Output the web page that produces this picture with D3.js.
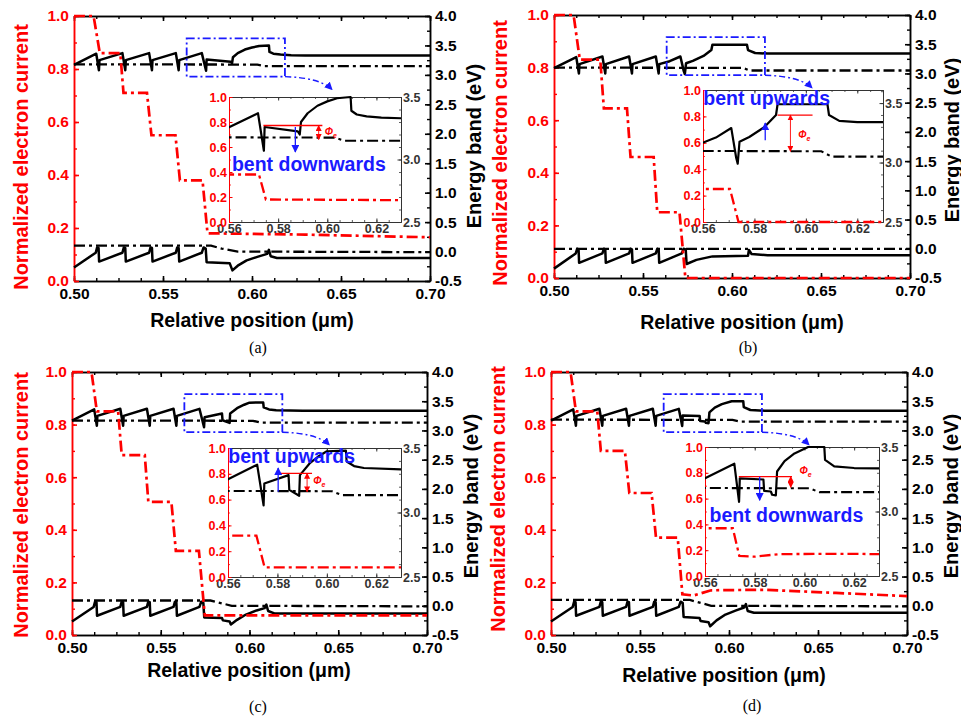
<!DOCTYPE html>
<html>
<head>
<meta charset="utf-8">
<script src="https://cdn.jsdelivr.net/npm/d3@7"></script>
<style>
body{margin:0;background:#fff;}
svg{display:block;font-family:"Liberation Sans",Arial,sans-serif;}
</style>
</head>
<body>
<svg id="fig" width="961" height="717"></svg>
<script>
'use strict';
/*
 *
 *	Data
 *
 */
var posTicks = [0.50, 0.55, 0.60, 0.65, 0.70];
var curTicks = [0.0, 0.2, 0.4, 0.6, 0.8, 1.0];
var bandTicks = [-0.5, 0.0, 0.5, 1.0, 1.5, 2.0, 2.5, 3.0, 3.5, 4.0];
var insetPosTicks = [0.56, 0.58, 0.60, 0.62];
var insetCurTicks = [0.0, 0.2, 0.4, 0.6, 0.8, 1.0];
var insetBandTicks = [2.5, 3.0, 3.5];
var panelLabels = ['(a)', '(b)', '(c)', '(d)'];
var insetNotes = ['bent downwards', 'bent upwards', 'bent upwards', 'bent downwards'];

// normalized electron current (red dash-dot), [position um, value]
var curA = [[0.500,1.00],[0.511,1.00],[0.5145,0.86],[0.526,0.86],[0.5278,0.71],[0.541,0.71],[0.5435,0.55],[0.557,0.55],[0.5595,0.38],[0.5722,0.38],[0.5750,0.18],[0.630,0.175],[0.700,0.165]];
var curB = [[0.500,1.00],[0.511,1.00],[0.5145,0.83],[0.526,0.83],[0.528,0.645],[0.541,0.645],[0.543,0.46],[0.556,0.46],[0.558,0.25],[0.5705,0.25],[0.5738,0.00],[0.700,0.00]];
var curC = [[0.500,1.00],[0.511,1.00],[0.514,0.85],[0.526,0.85],[0.528,0.684],[0.541,0.684],[0.543,0.506],[0.556,0.506],[0.5585,0.32],[0.5715,0.32],[0.5748,0.075],[0.700,0.075]];
var curD = [[0.500,1.00],[0.511,1.00],[0.514,0.85],[0.526,0.85],[0.528,0.70],[0.5415,0.70],[0.544,0.54],[0.5565,0.54],[0.559,0.37],[0.5712,0.37],[0.5738,0.155],[0.580,0.15],[0.590,0.17],[0.620,0.172],[0.660,0.16],[0.700,0.148]];

// conduction band (black solid), eV - MQW part shared by (a),(c),(d)
var cbMqw = [[0.500,3.17],[0.5125,3.36],[0.5140,3.08],[0.5143,3.25],
	[0.5272,3.37],[0.5288,3.08],[0.5291,3.25],
	[0.5422,3.37],[0.5438,3.08],[0.5441,3.25],
	[0.5572,3.37],[0.5588,3.08],[0.5591,3.25],[0.5718,3.37]];
var cbA = cbMqw.concat([[0.5742,3.07],[0.5745,3.26],[0.5880,3.225],[0.5888,3.20],[0.5893,3.30],[0.5920,3.37],[0.5960,3.43],[0.6000,3.465],[0.6040,3.49],[0.6095,3.50],[0.6098,3.39],[0.6120,3.36],[0.6160,3.345],[0.6220,3.335],[0.6300,3.33],[0.7000,3.33]]);
var cbB = [[0.500,3.09],[0.5125,3.28],[0.5140,3.00],[0.5143,3.16],[0.5272,3.29],[0.5288,3.00],[0.5291,3.16],[0.5422,3.29],[0.5438,3.00],[0.5441,3.16],[0.5572,3.29],[0.5588,3.00],[0.5591,3.16],[0.5650,3.21],[0.5710,3.29],[0.5729,3.04],[0.5735,2.99],[0.5742,3.175],[0.5780,3.215],[0.5840,3.30],[0.5884,3.40],[0.5890,3.49],[0.6084,3.49],[0.6090,3.40],[0.6130,3.35],[0.6200,3.34],[0.7000,3.34]];
var cbC = cbMqw.concat([[0.5744,3.055],[0.5747,3.225],[0.5845,3.29],[0.5848,3.175],[0.5888,3.13],[0.5891,3.29],[0.5930,3.38],[0.5970,3.44],[0.6000,3.475],[0.6077,3.48],[0.6080,3.395],[0.6110,3.36],[0.6150,3.345],[0.6300,3.335],[0.7000,3.335]]);
var cbD = cbMqw.concat([[0.5737,3.075],[0.5740,3.257],[0.5835,3.248],[0.5838,3.16],[0.5865,3.155],[0.5870,3.13],[0.5885,3.125],[0.5890,3.31],[0.5920,3.39],[0.5960,3.45],[0.6015,3.50],[0.6080,3.50],[0.6083,3.40],[0.6120,3.35],[0.6200,3.337],[0.6300,3.335],[0.7000,3.335]]);

// valence band (black solid), eV
var vbMqw = [[0.500,-0.27],[0.5122,-0.02],[0.5130,0.07],[0.5138,0.06],[0.5141,-0.17],
	[0.5272,-0.02],[0.5280,0.07],[0.5288,0.06],[0.5291,-0.17],
	[0.5422,-0.02],[0.5430,0.07],[0.5438,0.06],[0.5441,-0.17],
	[0.5572,-0.02],[0.5580,0.07],[0.5588,0.06],[0.5591,-0.17],
	[0.5718,-0.02],[0.5728,0.07],[0.5740,0.05]];
var vbA = vbMqw.concat([[0.5745,-0.18],[0.5875,-0.20],[0.5890,-0.32],[0.5920,-0.24],[0.5970,-0.15],[0.6030,-0.09],[0.6085,-0.04],[0.6095,0.03],[0.6105,-0.08],[0.6140,-0.11],[0.7000,-0.11]]);
var vbB = [[0.500,-0.34],[0.5122,-0.08],[0.5130,0.00],[0.5138,-0.01],[0.5141,-0.24],[0.5272,-0.08],[0.5280,0.00],[0.5288,-0.01],[0.5291,-0.24],[0.5422,-0.08],[0.5430,0.00],[0.5438,-0.01],[0.5441,-0.24],[0.5572,-0.08],[0.5580,0.00],[0.5588,-0.01],[0.5591,-0.24],[0.5718,-0.08],[0.5728,0.00],[0.5740,-0.01],[0.5745,-0.26],[0.5800,-0.19],[0.5890,-0.13],[0.6090,-0.12],[0.6095,-0.02],[0.6110,-0.09],[0.6200,-0.11],[0.7000,-0.11]];
var vbC = vbMqw.concat([[0.5745,-0.20],[0.5845,-0.21],[0.5850,-0.25],[0.5888,-0.27],[0.5895,-0.32],[0.5930,-0.24],[0.5980,-0.15],[0.6040,-0.08],[0.6085,-0.04],[0.6095,0.02],[0.6105,-0.09],[0.6140,-0.13],[0.7000,-0.13]]);
var vbD = vbMqw.concat([[0.5745,-0.19],[0.5835,-0.21],[0.5840,-0.26],[0.5885,-0.28],[0.5894,-0.35],[0.5930,-0.25],[0.5980,-0.15],[0.6040,-0.08],[0.6085,-0.03],[0.6095,0.03],[0.6105,-0.09],[0.6140,-0.12],[0.7000,-0.12]]);

// quasi-Fermi levels (black dash-dot), eV
var efnA = [[0.500,3.18],[0.603,3.175],[0.607,3.15],[0.700,3.15]];
var efnB = [[0.500,3.10],[0.606,3.095],[0.610,3.05],[0.700,3.05]];
var efnC = [[0.500,3.17],[0.602,3.165],[0.606,3.135],[0.700,3.135]];
var efnD = [[0.500,3.185],[0.602,3.18],[0.606,3.15],[0.700,3.15]];
var efpA = [[0.500,0.10],[0.577,0.10],[0.583,0.05],[0.592,0.00],[0.700,-0.01]];
var efpB = [[0.500,0.00],[0.700,0.00]];
var efpC = [[0.500,0.09],[0.578,0.09],[0.590,0.00],[0.700,-0.01]];
var efpD = [[0.500,0.10],[0.578,0.10],[0.590,0.00],[0.700,-0.01]];

/*
 *
 *	Layout
 *
 */
var RED = '#f00', BLUE = '#1a1aff', DASHDOT = '11,4,3,4';
var FONT = '"Liberation Sans",Arial,sans-serif';

var panels = [
	{x:74, y:16, w:356, h:265, cur:curA, cb:cbA, vb:vbA, efn:efnA, efp:efpA,
		ins:{x:229, y:97, w:172, h:125, eTop:3.5},
		note:{x0:0.574, x1:0.598, v:0.772, ax:0.5965, av:0.66, lx:0.599, lv:0.70, bx:0.587, bv0:0.76, bv1:0.56, tx:0.5612, tv:0.41},
		xt:[252, 327], lt:[28, 157], rt:[481, 146], lab:[258, 353]},
	{x:554, y:15, w:356, h:263, cur:curB, cb:cbB, vb:vbB, efn:efnB, efp:efpB,
		ins:{x:703, y:90, w:180, h:132, eTop:3.61},
		note:{x0:0.589, x1:0.6026, v:0.81, ax:0.594, av:0.535, lx:0.597, lv:0.64, bx:0.5842, bv0:0.62, bv1:0.75, tx:0.5601, tv:0.885},
		xt:[742, 329], lt:[507, 153], rt:[959, 140], lab:[748, 353]},
	{x:72, y:372, w:355, h:263, cur:curC, cb:cbC, vb:vbC, efn:efnC, efp:efpC,
		ins:{x:228, y:448, w:173, h:129, eTop:3.5},
		note:{x0:0.5803, x1:0.594, v:0.804, ax:0.592, av:0.66, lx:0.5945, lv:0.72, bx:0.5803, bv0:0.66, bv1:0.845, tx:0.5601, tv:0.88},
		xt:[249, 677], lt:[28, 505], rt:[478, 496], lab:[258, 712]},
	{x:551, y:372, w:356, h:263, cur:curD, cb:cbD, vb:vbD, efn:efnD, efp:efpD,
		ins:{x:705, y:447, w:174, h:129, eTop:3.5},
		note:{x0:0.5736, x1:0.595, v:0.77, ax:0.5945, av:0.687, lx:0.598, lv:0.79, bx:0.582, bv0:0.77, bv1:0.587, tx:0.5618, tv:0.418},
		xt:[724, 682], lt:[505, 499], rt:[958, 496], lab:[752, 711]}
];

var svg = d3.select('#fig');
var defs = svg.append('defs');

function marker(id, color, size) {
	defs.append('marker').attr('id', id)
		.attr('viewBox', '0 0 10 10').attr('refX', 9).attr('refY', 5)
		.attr('markerWidth', size).attr('markerHeight', size)
		.attr('markerUnits', 'userSpaceOnUse')
		.attr('orient', 'auto-start-reverse')
		.append('path').attr('d', 'M0,0L10,5L0,10z').attr('fill', color);
}
marker('arrBlue', BLUE, 8);
marker('arrRed', RED, 6);

function fix1(d) { return d.toFixed(1); }
function fix2(d) { return d.toFixed(2); }
function noLabel() { return ''; }

// axis helper
function addAxis(parent, axis, tx, ty, color, size, width) {
	var a = parent.append('g')
		.attr('transform', 'translate(' + tx + ',' + ty + ')')
		.call(axis.tickSizeOuter(0));
	a.attr('font-family', null).attr('font-size', null);
	a.select('.domain').attr('stroke', color).attr('stroke-width', width);
	a.selectAll('.tick line').attr('stroke', color).attr('stroke-width', width);
	a.selectAll('.tick text').attr('fill', color)
		.style('font-size', size + 'px').style('font-weight', 'bold').style('font-family', FONT);
	return a;
}

/*
 *
 *	Panel drawing
 *
 */
function drawPanel(p, i) {
	var g = svg.append('g');
	var x = d3.scaleLinear().domain([0.5, 0.7]).range([p.x, p.x + p.w]);
	var yC = d3.scaleLinear().domain([0, 1]).range([p.y + p.h, p.y]);
	var yE = d3.scaleLinear().domain([-0.5, 4]).range([p.y + p.h, p.y]);
	var posMinor = d3.range(0.5, 0.7001, 0.0125);
	var curMinor = d3.range(0, 1.001, 0.1);
	var bandMinor = d3.range(-0.5, 4.001, 0.25);

	// axes (all ticks point inward)
	addAxis(g, d3.axisBottom(x).tickValues(posTicks).tickFormat(fix2).tickSize(-5).tickPadding(7), 0, p.y + p.h, '#000', 15.5, 1.6);
	addAxis(g, d3.axisBottom(x).tickValues(posMinor).tickFormat(noLabel).tickSize(-3), 0, p.y + p.h, '#000', 1, 1.4);
	addAxis(g, d3.axisTop(x).tickValues(posTicks).tickFormat(noLabel).tickSize(-5), 0, p.y, '#000', 1, 1.6);
	addAxis(g, d3.axisTop(x).tickValues(posMinor).tickFormat(noLabel).tickSize(-3), 0, p.y, '#000', 1, 1.4);
	addAxis(g, d3.axisRight(yE).tickValues(bandTicks).tickFormat(fix1).tickSize(-5).tickPadding(5), p.x + p.w, 0, '#000', 15.5, 1.6);
	addAxis(g, d3.axisRight(yE).tickValues(bandMinor).tickFormat(noLabel).tickSize(-3), p.x + p.w, 0, '#000', 1, 1.4);
	addAxis(g, d3.axisLeft(yC).tickValues(curTicks).tickFormat(fix1).tickSize(-5).tickPadding(5), p.x, 0, RED, 15.5, 1.6);
	addAxis(g, d3.axisLeft(yC).tickValues(curMinor).tickFormat(noLabel).tickSize(-3), p.x, 0, RED, 1, 1.4);

	// titles
	g.append('text').attr('x', p.xt[0]).attr('y', p.xt[1]).attr('text-anchor', 'middle')
		.style('font-size', '19.5px').style('font-weight', 'bold').text('Relative position (\u03bcm)');
	g.append('text').attr('transform', 'translate(' + p.lt[0] + ',' + p.lt[1] + ') rotate(-90)')
		.attr('text-anchor', 'middle').attr('fill', RED)
		.style('font-size', '20px').style('font-weight', 'bold').text('Normalized electron current');
	g.append('text').attr('transform', 'translate(' + p.rt[0] + ',' + p.rt[1] + ') rotate(-90)')
		.attr('text-anchor', 'middle')
		.style('font-size', '20px').style('font-weight', 'bold').text('Energy band (eV)');
	g.append('text').attr('x', p.lab[0]).attr('y', p.lab[1]).attr('text-anchor', 'middle')
		.style('font-family', '"Liberation Serif","Times New Roman",serif').style('font-size', '16px')
		.text(panelLabels[i]);

	// main curves
	var lineE = d3.line().x(function(d){ return x(d[0]); }).y(function(d){ return yE(d[1]); });
	var lineC = d3.line().x(function(d){ return x(d[0]); }).y(function(d){ return yC(d[1]); });
	[p.efn, p.efp].forEach(function(s){
		g.append('path').datum(s).attr('d', lineE).attr('fill', 'none')
			.attr('stroke', '#000').attr('stroke-width', 2.3).attr('stroke-dasharray', DASHDOT);
	});
	[p.cb, p.vb].forEach(function(s){
		g.append('path').datum(s).attr('d', lineE).attr('fill', 'none')
			.attr('stroke', '#000').attr('stroke-width', 2.5).attr('stroke-linejoin', 'round');
	});
	g.append('path').datum(p.cur).attr('d', lineC).attr('fill', 'none')
		.attr('stroke', RED).attr('stroke-width', 2.7).attr('stroke-dasharray', DASHDOT);

	// zoom box and curved pointer
	g.append('rect').attr('x', x(0.5633)).attr('y', yE(3.62))
		.attr('width', x(0.6185) - x(0.5633)).attr('height', yE(2.97) - yE(3.62))
		.attr('fill', 'none').attr('stroke', BLUE).attr('stroke-width', 1.8).attr('stroke-dasharray', '8,3,2,3');
	var sx = x(0.6185), sy = yE(2.97), ex = x(0.645), ey = yE(2.75);
	g.append('path').attr('d', 'M' + sx + ',' + sy + 'Q' + (ex - 12) + ',' + (sy + 1) + ' ' + ex + ',' + ey)
		.attr('fill', 'none').attr('stroke', BLUE).attr('stroke-width', 1.4)
		.attr('stroke-dasharray', '6,3,2,3').attr('marker-end', 'url(#arrBlue)');

	drawInset(g, p, i);
}

function drawInset(g, p, i) {
	var q = p.ins, n = p.note;
	var xi = d3.scaleLinear().domain([0.56, 0.63]).range([q.x, q.x + q.w]);
	var yiC = d3.scaleLinear().domain([0, 1]).range([q.y + q.h, q.y]);
	var yiE = d3.scaleLinear().domain([2.5, q.eTop]).range([q.y + q.h, q.y]);
	var ig = g.append('g');

	ig.append('rect').attr('x', q.x).attr('y', q.y).attr('width', q.w).attr('height', q.h).attr('fill', '#fff');

	var posMinor = d3.range(0.56, 0.6301, 0.005);
	var curMinor = d3.range(0, 1.001, 0.1);
	var bandMinor = d3.range(2.5, q.eTop + 0.001, 0.1);
	addAxis(ig, d3.axisBottom(xi).tickValues(insetPosTicks).tickFormat(fix2).tickSize(-3.5).tickPadding(2), 0, q.y + q.h, '#333', 12.5, 1);
	addAxis(ig, d3.axisBottom(xi).tickValues(posMinor).tickFormat(noLabel).tickSize(-2), 0, q.y + q.h, '#333', 1, 0.8);
	addAxis(ig, d3.axisTop(xi).tickValues(insetPosTicks).tickFormat(noLabel).tickSize(-3.5), 0, q.y, '#333', 1, 1);
	addAxis(ig, d3.axisTop(xi).tickValues(posMinor).tickFormat(noLabel).tickSize(-2), 0, q.y, '#333', 1, 0.8);
	addAxis(ig, d3.axisRight(yiE).tickValues(insetBandTicks).tickFormat(fix1).tickSize(-3.5).tickPadding(2), q.x + q.w, 0, '#333', 12.5, 1);
	addAxis(ig, d3.axisRight(yiE).tickValues(bandMinor).tickFormat(noLabel).tickSize(-2), q.x + q.w, 0, '#333', 1, 0.8);
	addAxis(ig, d3.axisLeft(yiC).tickValues(insetCurTicks).tickFormat(fix1).tickSize(-3.5).tickPadding(2), q.x, 0, RED, 12.5, 1);
	addAxis(ig, d3.axisLeft(yiC).tickValues(curMinor).tickFormat(noLabel).tickSize(-2), q.x, 0, RED, 1, 0.8);

	var cid = 'clipInset' + i;
	defs.append('clipPath').attr('id', cid).append('rect')
		.attr('x', q.x).attr('y', q.y - 2).attr('width', q.w).attr('height', q.h + 4);
	var cg = ig.append('g').attr('clip-path', 'url(#' + cid + ')');
	var lineE = d3.line().x(function(d){ return xi(d[0]); }).y(function(d){ return yiE(d[1]); });
	var lineC = d3.line().x(function(d){ return xi(d[0]); }).y(function(d){ return yiC(d[1]); });
	cg.append('path').datum(p.efn).attr('d', lineE).attr('fill', 'none')
		.attr('stroke', '#000').attr('stroke-width', 2.1).attr('stroke-dasharray', DASHDOT);
	cg.append('path').datum(p.cb).attr('d', lineE).attr('fill', 'none')
		.attr('stroke', '#000').attr('stroke-width', 2.2).attr('stroke-linejoin', 'round');
	cg.append('path').datum(p.cur).attr('d', lineC).attr('fill', 'none')
		.attr('stroke', RED).attr('stroke-width', 2.3).attr('stroke-dasharray', DASHDOT);

	// barrier height marker
	ig.append('line').attr('x1', xi(n.x0)).attr('x2', xi(n.x1)).attr('y1', yiC(n.v)).attr('y2', yiC(n.v))
		.attr('stroke', RED).attr('stroke-width', 1.3);
	ig.append('line').attr('x1', xi(n.ax)).attr('x2', xi(n.ax)).attr('y1', yiC(n.v)).attr('y2', yiC(n.av))
		.attr('stroke', RED).attr('stroke-width', 0.9)
		.attr('marker-start', 'url(#arrRed)').attr('marker-end', 'url(#arrRed)');
	var phi = ig.append('text').attr('x', xi(n.lx)).attr('y', yiC(n.lv)).attr('fill', RED)
		.style('font-size', '10px').style('font-style', 'italic').style('font-weight', 'bold');
	phi.append('tspan').text('\u03a6');
	phi.append('tspan').attr('dy', 3).style('font-size', '7px').text('e');

	// band bending arrow and note
	ig.append('line').attr('x1', xi(n.bx)).attr('x2', xi(n.bx)).attr('y1', yiC(n.bv0)).attr('y2', yiC(n.bv1))
		.attr('stroke', BLUE).attr('stroke-width', 1.3).attr('marker-end', 'url(#arrBlue)');
	ig.append('text').attr('x', xi(n.tx)).attr('y', yiC(n.tv)).attr('fill', BLUE)
		.style('font-size', '19.5px').style('font-weight', 'bold').text(insetNotes[i]);
}

panels.forEach(drawPanel);
</script>
</body>
</html>
